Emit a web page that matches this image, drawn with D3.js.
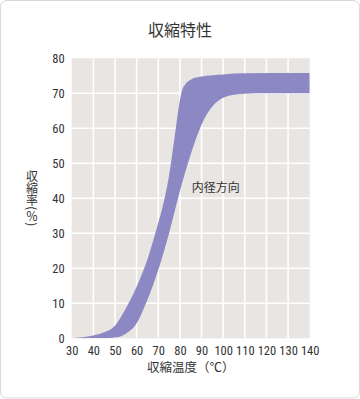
<!DOCTYPE html>
<html><head><meta charset="utf-8">
<script src="https://cdn.jsdelivr.net/npm/d3@7"></script>
<style>
html,body{margin:0;padding:0;background:#fff;}
svg{display:block;}
</style></head>
<body>
<svg id="chart" width="360" height="399"></svg>
<script>
// ---- data ----
const titleText = "収縮特性";
const xTitle = "収縮温度（℃）";
const yTitle = "収縮率(％)";
const bandLabel = "内径方向";
const xTicks = [30,40,50,60,70,80,90,100,110,120,130,140];
const yTicks = [0,10,20,30,40,50,60,70,80];
// upper boundary of the band (temperature, shrinkage %)
const upperX = [30,35,40,45,50,55,60,65,70,72,75,78,80,81,82.5,85,90,100,110,140];
const upperY = [0,0.3,0.8,1.7,3.6,8.5,14.7,22.5,33,37.5,46.5,59.5,68,70.8,72.6,73.9,74.8,75.4,75.7,75.8];
// lower boundary of the band
const lowerX = [30,40,45,50,55,60,65,70,75,80,85,90,95,100,105,110,120,140];
const lowerY = [0,0,0,0.2,1.3,4.3,11,19.5,30,42,52.5,61,66.2,68.7,69.6,69.9,70,70];
const labelPos = [85.5, 43.5];

const upper = upperX.map((x,i)=>({x, y: upperY[i]}));
const lower = lowerX.map((x,i)=>({x, y: lowerY[i]}));

const W = 360, H = 399;
const m = {left:71.7, right:50.3, top:58.3, bottom:60.7};
const svg = d3.select("#chart");
const jp = "'Noto Sans CJK JP','Noto Sans',sans-serif";
const num = "'Liberation Sans Narrow','Roboto Condensed','Noto Sans CJK JP',sans-serif";

// frame
svg.append("rect").attr("x",0.5).attr("y",0.5).attr("width",W-1).attr("height",H-1.5)
  .attr("rx",6).attr("fill","#fff").attr("stroke","#d9d9d9").attr("stroke-width",1);

const x = d3.scaleLinear().domain([30,140]).range([m.left, W-m.right]);
const y = d3.scaleLinear().domain([0,80]).range([H-m.bottom, m.top]);

// title
svg.append("text").attr("x",180).attr("y",35.5).attr("text-anchor","middle")
  .attr("font-family",jp).attr("font-size",16).attr("fill","#333").text(titleText);

// plot background
svg.append("rect").attr("x",x(30)).attr("y",y(80)).attr("width",x(140)-x(30)).attr("height",y(0)-y(80))
  .attr("fill","#e8e5e2");

// grid
const g = svg.append("g");
g.selectAll(".vg").data(xTicks.slice(1,-1)).join("line")
  .attr("x1",d=>x(d)).attr("x2",d=>x(d)).attr("y1",y(80)).attr("y2",y(0))
  .attr("stroke","#fff").attr("stroke-width",1.6);
g.selectAll(".hg").data(yTicks.slice(1,-1)).join("line")
  .attr("y1",d=>y(d)).attr("y2",d=>y(d)).attr("x1",x(30)).attr("x2",x(140))
  .attr("stroke","#fff").attr("stroke-width",1.6);

// band: area under upper curve clipped to region above lower curve
const defs = svg.append("defs");
const clipArea = d3.area().x(d=>x(d.x)).y0(d=>y(d.y)).y1(y(80)-5).curve(d3.curveMonotoneX);
defs.append("clipPath").attr("id","aboveLower").append("path").attr("d",clipArea(lower));
const bandArea = d3.area().x(d=>x(d.x)).y0(y(0)).y1(d=>y(d.y)).curve(d3.curveMonotoneX);
svg.append("path").attr("d",bandArea(upper)).attr("fill","#8b88c3")
  .attr("clip-path","url(#aboveLower)");

// axes
const yAxis = d3.axisLeft(y).tickValues(yTicks).tickSize(0).tickPadding(7);
const ya = svg.append("g").attr("transform",`translate(${x(30)},0)`).call(yAxis);
const xAxis = d3.axisBottom(x).tickValues(xTicks).tickSize(0).tickPadding(8);
const xa = svg.append("g").attr("transform",`translate(0,${y(0)})`).call(xAxis);
[ya,xa].forEach(a=>{
  a.select(".domain").remove();
  a.selectAll("text").attr("font-family",num).attr("font-size",12.5).attr("fill","#333");
});

// x axis title
svg.append("text").attr("x",(x(30)+x(140))/2).attr("y",372).attr("text-anchor","middle")
  .attr("font-family",jp).attr("font-size",12.5).attr("fill","#333").text(xTitle);

// y axis title (vertical writing)
svg.append("text").attr("x",32).attr("y",(y(0)+y(80))/2).attr("text-anchor","middle")
  .style("writing-mode","vertical-rl").style("text-orientation","mixed")
  .attr("font-family",jp).attr("font-size",12).attr("fill","#333").text(yTitle);

// band label
svg.append("text").attr("x",x(labelPos[0])).attr("y",y(labelPos[1])).attr("dominant-baseline","central")
  .attr("font-family",jp).attr("font-size",12).attr("fill","#333").text(bandLabel);
</script>
</body></html>
